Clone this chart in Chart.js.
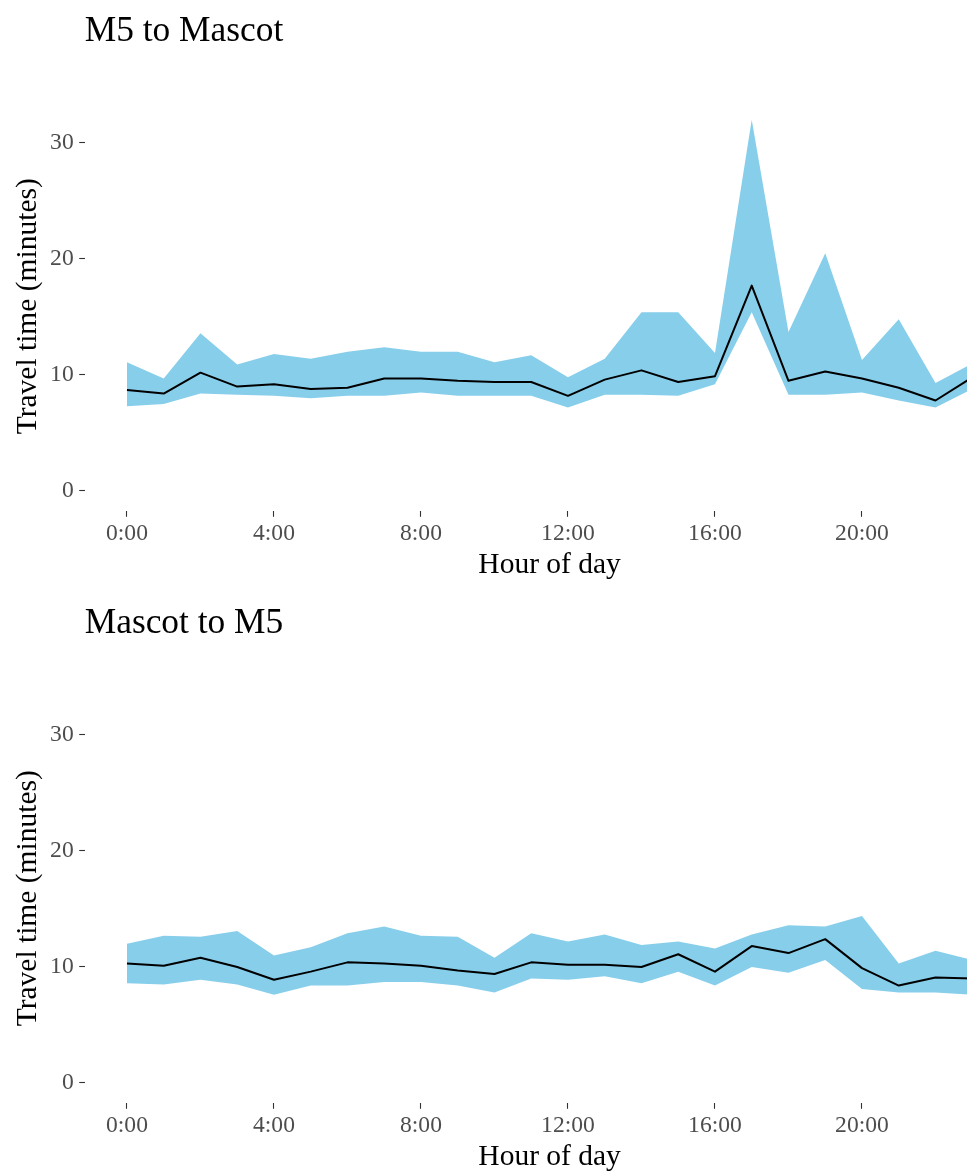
<!DOCTYPE html>
<html>
<head>
<meta charset="utf-8">
<script src="https://cdn.jsdelivr.net/npm/chart.js@4.4.1/dist/chart.umd.min.js"></script>
<style>
  html, body { margin: 0; padding: 0; background: #ffffff; overflow: hidden; }
  body { width: 967px; height: 1171px; position: relative; }
  canvas { position: absolute; left: 0; }
  #topChart { top: 0; }
  #bottomChart { top: 592px; }
</style>
</head>
<body>
<canvas id="topChart" width="1030" height="592"></canvas>
<canvas id="bottomChart" width="1030" height="592"></canvas>
<script>
// Hour of day (x values)
const hours = [0, 1, 2, 3, 4, 5, 6, 7, 8, 9, 10, 11, 12, 13, 14, 15, 16, 17, 18, 19, 20, 21, 22, 23];
const hourTicks = [0, 4, 8, 12, 16, 20];
const minuteTicks = [0, 10, 20, 30];

// M5 to Mascot - travel time (minutes)
const m5ToMascotUpper = [11.1, 9.7, 13.6, 10.9, 11.8, 11.4, 12.0, 12.4, 12.0, 12.0, 11.1, 11.7, 9.8, 11.4, 15.4, 15.4, 11.9, 32.0, 13.7, 20.5, 11.3, 14.8, 9.3, 11.0];
const m5ToMascotMean = [8.7, 8.4, 10.2, 9.0, 9.2, 8.8, 8.9, 9.7, 9.7, 9.5, 9.4, 9.4, 8.2, 9.6, 10.4, 9.4, 9.9, 17.7, 9.5, 10.3, 9.7, 8.9, 7.8, 9.8];
const m5ToMascotLower = [7.3, 7.5, 8.4, 8.3, 8.2, 8.0, 8.2, 8.2, 8.5, 8.2, 8.2, 8.2, 7.2, 8.3, 8.3, 8.2, 9.2, 15.4, 8.3, 8.3, 8.5, 7.8, 7.2, 8.8];

// Mascot to M5 - travel time (minutes)
const mascotToM5Upper = [12.0, 12.7, 12.6, 13.1, 11.0, 11.7, 12.9, 13.5, 12.7, 12.6, 10.8, 12.9, 12.2, 12.8, 11.9, 12.2, 11.6, 12.8, 13.6, 13.5, 14.4, 10.3, 11.4, 10.6];
const mascotToM5Mean = [10.3, 10.1, 10.8, 10.0, 8.9, 9.6, 10.4, 10.3, 10.1, 9.7, 9.4, 10.4, 10.2, 10.2, 10.0, 11.1, 9.6, 11.8, 11.2, 12.4, 9.9, 8.4, 9.1, 9.0];
const mascotToM5Lower = [8.6, 8.5, 8.9, 8.5, 7.6, 8.4, 8.4, 8.7, 8.7, 8.4, 7.8, 9.0, 8.9, 9.2, 8.6, 9.6, 8.4, 10.0, 9.5, 10.6, 8.1, 7.8, 7.8, 7.6];

const SERIF = '"Liberation Serif", "Times New Roman", serif';
const RIBBON = '#87CEEB';

function toPoints(values) {
    return hours.map((h, i) => ({ x: h, y: values[i] }));
}

// draws the panel title left-aligned with the plot area
const panelTitle = {
    id: 'panelTitle',
    afterDraw(chart, args, opts) {
        const ctx = chart.ctx;
        ctx.save();
        ctx.font = '35.4px ' + SERIF;
        ctx.fillStyle = '#000000';
        ctx.textAlign = 'left';
        ctx.textBaseline = 'alphabetic';
        ctx.fillText(opts.text, chart.chartArea.left, 40.5);
        ctx.restore();
    }
};

function makePanel(canvasId, title, upper, mean, lower) {
    return new Chart(document.getElementById(canvasId), {
        type: 'line',
        data: {
            datasets: [
                {
                    label: 'upper',
                    data: toPoints(upper),
                    borderWidth: 0,
                    pointRadius: 0,
                    backgroundColor: RIBBON,
                    fill: '+1',
                    order: 2
                },
                {
                    label: 'lower',
                    data: toPoints(lower),
                    borderWidth: 0,
                    pointRadius: 0,
                    fill: false,
                    order: 2
                },
                {
                    label: 'mean',
                    data: toPoints(mean),
                    borderColor: '#000000',
                    borderWidth: 2,
                    borderJoinStyle: 'round',
                    pointRadius: 0,
                    tension: 0,
                    fill: false,
                    order: 1
                }
            ]
        },
        options: {
            responsive: false,
            animation: false,
            layout: { padding: { top: 101.2, bottom: 9.3, left: 0, right: 15.5 } },
            plugins: {
                legend: { display: false },
                tooltip: { enabled: false },
                filler: { drawTime: 'beforeDatasetsDraw' },
                panelTitle: { text: title }
            },
            scales: {
                x: {
                    type: 'linear',
                    min: -1.15,
                    max: 24.15,
                    afterBuildTicks: (scale) => { scale.ticks = hourTicks.map(v => ({ value: v })); },
                    afterFit: (scale) => { scale.height = 71.4; },
                    border: { display: false },
                    grid: {
                        drawOnChartArea: false,
                        drawTicks: true,
                        tickLength: 5.5,
                        tickColor: '#333333',
                        tickWidth: 1.1
                    },
                    ticks: {
                        autoSkip: false,
                        maxRotation: 0,
                        padding: 3,
                        color: '#4d4d4d',
                        font: { family: SERIF, size: 23.6, lineHeight: 1.2 },
                        callback: (v) => v + ':00'
                    },
                    title: {
                        display: true,
                        text: 'Hour of day',
                        color: '#000000',
                        padding: { top: 0, bottom: 0 },
                        font: { family: SERIF, size: 29.5, lineHeight: 1.2 }
                    }
                },
                y: {
                    type: 'linear',
                    min: -1.75,
                    max: 33.6,
                    afterBuildTicks: (scale) => { scale.ticks = minuteTicks.map(v => ({ value: v })); },
                    afterFit: (scale) => { scale.width = 84.7; },
                    border: { display: false },
                    grid: {
                        drawOnChartArea: false,
                        drawTicks: true,
                        tickLength: 5.5,
                        tickColor: '#333333',
                        tickWidth: 1.1
                    },
                    ticks: {
                        padding: 5.5,
                        color: '#4d4d4d',
                        font: { family: SERIF, size: 23.6, lineHeight: 1.2 }
                    },
                    title: {
                        display: true,
                        text: 'Travel time (minutes)',
                        color: '#000000',
                        padding: { top: 11, bottom: 0 },
                        font: { family: SERIF, size: 29.5, lineHeight: 1.2 }
                    }
                }
            }
        },
        plugins: [panelTitle]
    });
}

makePanel('topChart', 'M5 to Mascot', m5ToMascotUpper, m5ToMascotMean, m5ToMascotLower);
makePanel('bottomChart', 'Mascot to M5', mascotToM5Upper, mascotToM5Mean, mascotToM5Lower);
</script>
</body>
</html>
